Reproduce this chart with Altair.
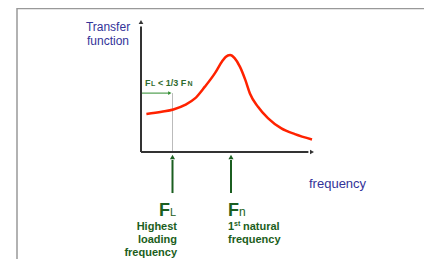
import altair as alt
import pandas as pd

# ---- data (frequency normalised to first natural frequency) ----
freq = [0.06, 0.23, 0.36, 0.49, 0.60, 0.71, 0.82, 0.90, 0.94, 0.99, 1.04, 1.10, 1.16, 1.21, 1.30, 1.41, 1.56, 1.71, 1.90]
transfer = [1.00, 1.06, 1.12, 1.24, 1.41, 1.72, 2.07, 2.38, 2.50, 2.55, 2.47, 2.24, 1.89, 1.54, 1.19, 0.89, 0.62, 0.47, 0.33]
FL = 0.35
FN = 1.0
Y_TOP = 3.42
X_END = 1.90
FL_LEVEL = 1.55
ARROW_LOW = -1.08
ARROW_HIGH = -0.13

RED = "#ff2200"
GREEN = "#1b5e20"
BLUE = "#333399"
AXIS = "#333333"

xs = alt.Scale(domain=[0, 1], range=[133, 223], nice=False, zero=False)
ys = alt.Scale(domain=[0, 1], range=[144, 106], nice=False, zero=False)

curve_df = pd.DataFrame({"f": freq, "H": transfer})
curve = alt.Chart(curve_df).mark_line(color=RED, strokeWidth=2.5, interpolate="monotone").encode(
    x=alt.X("f:Q", scale=xs, axis=None), y=alt.Y("H:Q", scale=ys, axis=None))

# axes
axes_df = pd.DataFrame({"x": [0, 0], "x2": [0, X_END - 0.04], "y": [0, 0], "y2": [Y_TOP - 0.12, 0]})
axes = alt.Chart(axes_df).mark_rule(color=AXIS, strokeWidth=2).encode(
    x=alt.X("x:Q", scale=xs, axis=None), x2="x2:Q",
    y=alt.Y("y:Q", scale=ys, axis=None), y2="y2:Q")
heads_df = pd.DataFrame({"x": [0, X_END], "y": [Y_TOP, 0], "s": ["triangle-up", "triangle-right"]})
heads = alt.Chart(heads_df).mark_point(filled=True, color=AXIS, size=22, opacity=1).encode(
    x=alt.X("x:Q", scale=xs, axis=None), y=alt.Y("y:Q", scale=ys, axis=None),
    shape=alt.Shape("s:N", scale=None, legend=None))

# gray FL line
gray_df = pd.DataFrame({"x": [FL], "y": [0], "y2": [FL_LEVEL]})
gray = alt.Chart(gray_df).mark_rule(color="#bbbbbb", strokeWidth=1).encode(
    x=alt.X("x:Q", scale=xs, axis=None), y=alt.Y("y:Q", scale=ys, axis=None), y2="y2:Q")

# green horizontal arrow
harrow_df = pd.DataFrame({"x": [0], "x2": [FL - 0.04], "y": [FL_LEVEL]})
harrow = alt.Chart(harrow_df).mark_rule(color="#2e8b2e", strokeWidth=1).encode(
    x=alt.X("x:Q", scale=xs, axis=None), x2="x2:Q", y=alt.Y("y:Q", scale=ys, axis=None))
hhead_df = pd.DataFrame({"x": [FL - 0.03], "y": [FL_LEVEL]})
hhead = alt.Chart(hhead_df).mark_point(filled=True, color="#2e8b2e", size=14, opacity=1,
                                       shape="triangle-right").encode(
    x=alt.X("x:Q", scale=xs, axis=None), y=alt.Y("y:Q", scale=ys, axis=None))

# bottom arrows
varrow_df = pd.DataFrame({"x": [FL, FN], "y": [ARROW_LOW, ARROW_LOW], "y2": [ARROW_HIGH - 0.08, ARROW_HIGH - 0.08]})
varrow = alt.Chart(varrow_df).mark_rule(color=GREEN, strokeWidth=2).encode(
    x=alt.X("x:Q", scale=xs, axis=None), y=alt.Y("y:Q", scale=ys, axis=None), y2="y2:Q")
vhead_df = pd.DataFrame({"x": [FL, FN], "y": [ARROW_HIGH, ARROW_HIGH]})
vhead = alt.Chart(vhead_df).mark_point(filled=True, color=GREEN, size=26, opacity=1,
                                       shape="triangle-up").encode(
    x=alt.X("x:Q", scale=xs, axis=None), y=alt.Y("y:Q", scale=ys, axis=None))

# frame
frame_l = alt.Chart().mark_rule(color="#999999", strokeWidth=1.5).encode(
    x=alt.value(9), y=alt.value(0), y2=alt.value(251))
frame_r = alt.Chart().mark_rule(color="#999999", strokeWidth=1.5).encode(
    x=alt.value(421), y=alt.value(0), y2=alt.value(251))
frame_t = alt.Chart().mark_rule(color="#999999", strokeWidth=1.5).encode(
    x=alt.value(9), x2=alt.value(421), y=alt.value(0.5))

FONT = "Liberation Sans"


def txt(s, x, y, size, color, bold=False, align="left", baseline="middle"):
    return alt.Chart().mark_text(text=s, font=FONT, fontSize=size, color=color,
                                 fontWeight="bold" if bold else "normal",
                                 align=align, baseline=baseline).encode(
        x=alt.value(x), y=alt.value(y))


texts = [
    txt("Transfer", 100, 19, 12, BLUE, align="center"),
    txt("function", 100, 33, 12, BLUE, align="center"),
    txt("frequency", 301, 176, 13, BLUE),
    txt("F", 137, 75, 9, "#2e6b2e", bold=True),
    txt("L", 143, 75.5, 7, "#2e6b2e", bold=True),
    txt("< 1/3 F", 150, 75, 9, "#2e6b2e", bold=True),
    txt("N", 179.5, 75.5, 7, "#2e6b2e", bold=True),
    txt("F", 151, 208, 18, GREEN, bold=True, baseline="alphabetic"),
    txt("L", 162, 208, 11, GREEN, baseline="alphabetic"),
    txt("F", 220, 208, 18, GREEN, bold=True, baseline="alphabetic"),
    txt("n", 231, 208, 12, GREEN, baseline="alphabetic"),
    txt("Highest", 169, 219, 11, GREEN, bold=True, align="right"),
    txt("loading", 169, 231.5, 11, GREEN, bold=True, align="right"),
    txt("frequency", 169, 244.5, 11, GREEN, bold=True, align="right"),
    txt("1", 220, 219, 11, GREEN, bold=True),
    txt("st", 226, 216, 7, GREEN, bold=True),
    txt("natural", 235, 219, 11, GREEN, bold=True),
    txt("frequency", 220, 231.5, 11, GREEN, bold=True),
]

chart = alt.layer(frame_l, frame_r, frame_t, gray, harrow, hhead, axes, heads, curve,
                  varrow, vhead, *texts).properties(
    width=416, height=251, padding=0, autosize=alt.AutoSizeParams(type="none")
).configure_view(stroke=None)

chart.save("out.html", embed_options={"renderer": "svg", "actions": False})
